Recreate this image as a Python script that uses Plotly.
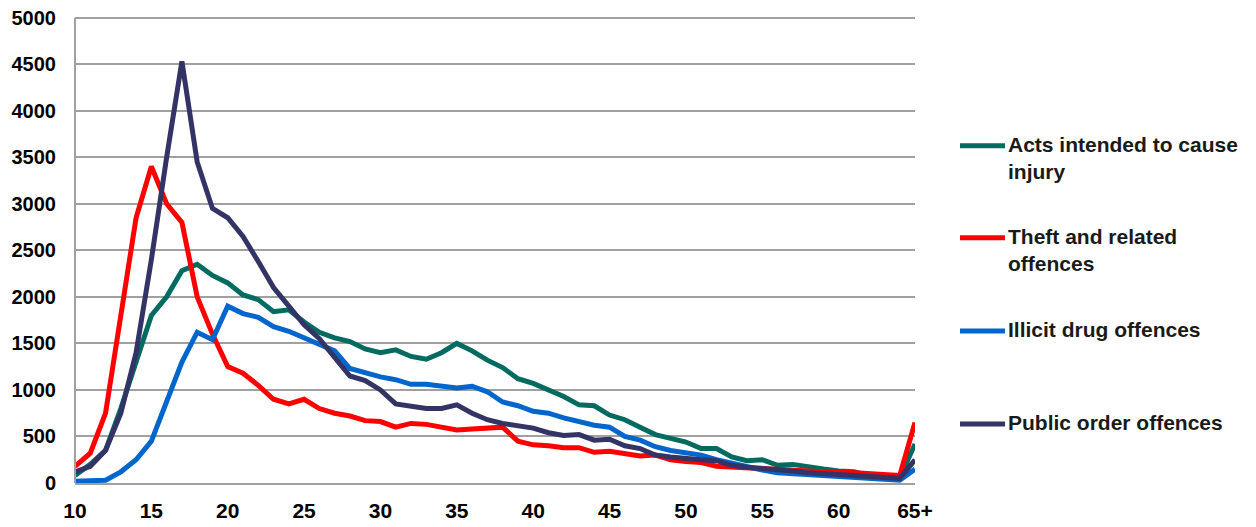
import plotly.graph_objects as go

ages = [str(a) for a in range(10, 65)] + ["65+"]

acts = [80, 200, 350, 800, 1300, 1800, 2000, 2280, 2350, 2230, 2150, 2020, 1970, 1840, 1860,
        1730, 1620, 1560, 1520, 1440, 1400, 1430, 1360, 1330, 1400, 1500, 1420, 1320, 1240, 1120,
        1070, 1000, 930, 840, 830, 730, 680, 600, 520, 480, 440, 370, 370, 280, 240,
        250, 190, 200, 170, 150, 130, 120, 80, 60, 50, 420]

theft = [180, 320, 750, 1800, 2850, 3400, 3000, 2800, 2000, 1600, 1250, 1180, 1050, 900, 850,
         900, 800, 750, 720, 670, 660, 600, 640, 630, 600, 570, 580, 590, 600, 450,
         410, 400, 380, 380, 330, 340, 320, 290, 300, 250, 230, 220, 180, 170, 160,
         150, 140, 140, 130, 120, 120, 110, 100, 100, 80, 650]

drugs = [20, 20, 30, 120, 250, 450, 870, 1300, 1620, 1540, 1900, 1820, 1780, 1680, 1630,
         1560, 1500, 1420, 1230, 1180, 1140, 1110, 1060, 1060, 1040, 1020, 1040, 980, 870, 830,
         770, 750, 700, 660, 620, 600, 500, 460, 390, 350, 320, 300, 250, 210, 180,
         140, 110, 100, 90, 70, 60, 55, 50, 40, 30, 150]

public = [120, 180, 350, 750, 1400, 2400, 3500, 4530, 3450, 2950, 2850, 2650, 2380, 2100, 1900,
          1700, 1550, 1350, 1150, 1100, 1000, 850, 820, 800, 800, 840, 750, 680, 640, 610,
          590, 540, 510, 520, 460, 470, 400, 370, 300, 280, 260, 250, 240, 190, 170,
          160, 140, 130, 110, 100, 90, 80, 60, 50, 50, 250]

series_names = ["Acts intended to cause injury", "Theft and related offences",
                "Illicit drug offences", "Public order offences"]
legend_texts = ["Acts intended to cause<br>injury", "Theft and related<br>offences",
                "Illicit drug offences", "Public order offences"]
series_values = [acts, theft, drugs, public]
colors = ["#006B5E", "#FF0000", "#0066CC", "#333366"]

tick_labels = ["10", "15", "20", "25", "30", "35", "40", "45", "50", "55", "60", "65+"]
y_ticks = list(range(0, 5001, 500))
y_max = 5050

fig = go.Figure()
for name, vals, col in zip(series_names, series_values, colors):
    fig.add_trace(go.Scatter(x=ages, y=vals, mode="lines", name=name,
                             line=dict(color=col, width=5), showlegend=False))

font_family = "Liberation Sans, Arial, sans-serif"

# plot area in page pixels: value 0 at B, value 5000 at 18
L, R, B = 75, 915, 483
T = B - (B - 18) * y_max / 5000.0


def px_x(x):
    return (x - L) / (R - L)


def px_y(y):
    return (B - y) / (B - T)


# manual legend
legend_y = [146, 238, 331, 424]
for txt, col, yc in zip(legend_texts, colors, legend_y):
    fig.add_shape(type="line", xref="paper", yref="paper",
                  x0=px_x(960), x1=px_x(1005), y0=px_y(yc), y1=px_y(yc),
                  line=dict(color=col, width=5))
    two = "<br>" in txt
    fig.add_annotation(xref="paper", yref="paper",
                       x=px_x(1006), y=px_y(yc + (13 if two else 0) - 1),
                       xanchor="left", yanchor="middle",
                       text="<b>" + txt + "</b>", showarrow=False, align="left",
                       font=dict(family=font_family, size=21, color="#1a1a1a"))

fig.update_layout(
    width=1256, height=527,
    margin=dict(l=L, r=1256 - R, t=T, b=527 - B),
    paper_bgcolor="white", plot_bgcolor="white",
    font=dict(family=font_family, size=20, color="black"),
    xaxis=dict(type="category", range=[0, 55], tickmode="array", tickvals=tick_labels,
               ticktext=["<b>%s</b>" % t for t in tick_labels], showgrid=False,
               showline=True, linecolor="#A0A0A0", linewidth=2, ticks="",
               ticklabelstandoff=8, tickfont=dict(size=21), automargin=False,
               ticklabeloverflow="allow"),
    yaxis=dict(range=[0, y_max], tickmode="array", tickvals=y_ticks,
               ticktext=["<b>%d</b>" % v for v in y_ticks],
               showgrid=True, gridcolor="#A0A0A0", gridwidth=1.5,
               showline=False, ticks="",
               zeroline=False, ticklabelstandoff=18, tickfont=dict(size=20),
               automargin=False, ticklabeloverflow="allow"),
)
# left axis line from 0 to 5000 only
fig.add_shape(type="line", xref="paper", yref="y", x0=0, x1=0, y0=0, y1=5000,
              line=dict(color="#A0A0A0", width=2))

fig.write_html("out.html", post_script="document.body.style.margin='0';",
               config={"displayModeBar": False})
